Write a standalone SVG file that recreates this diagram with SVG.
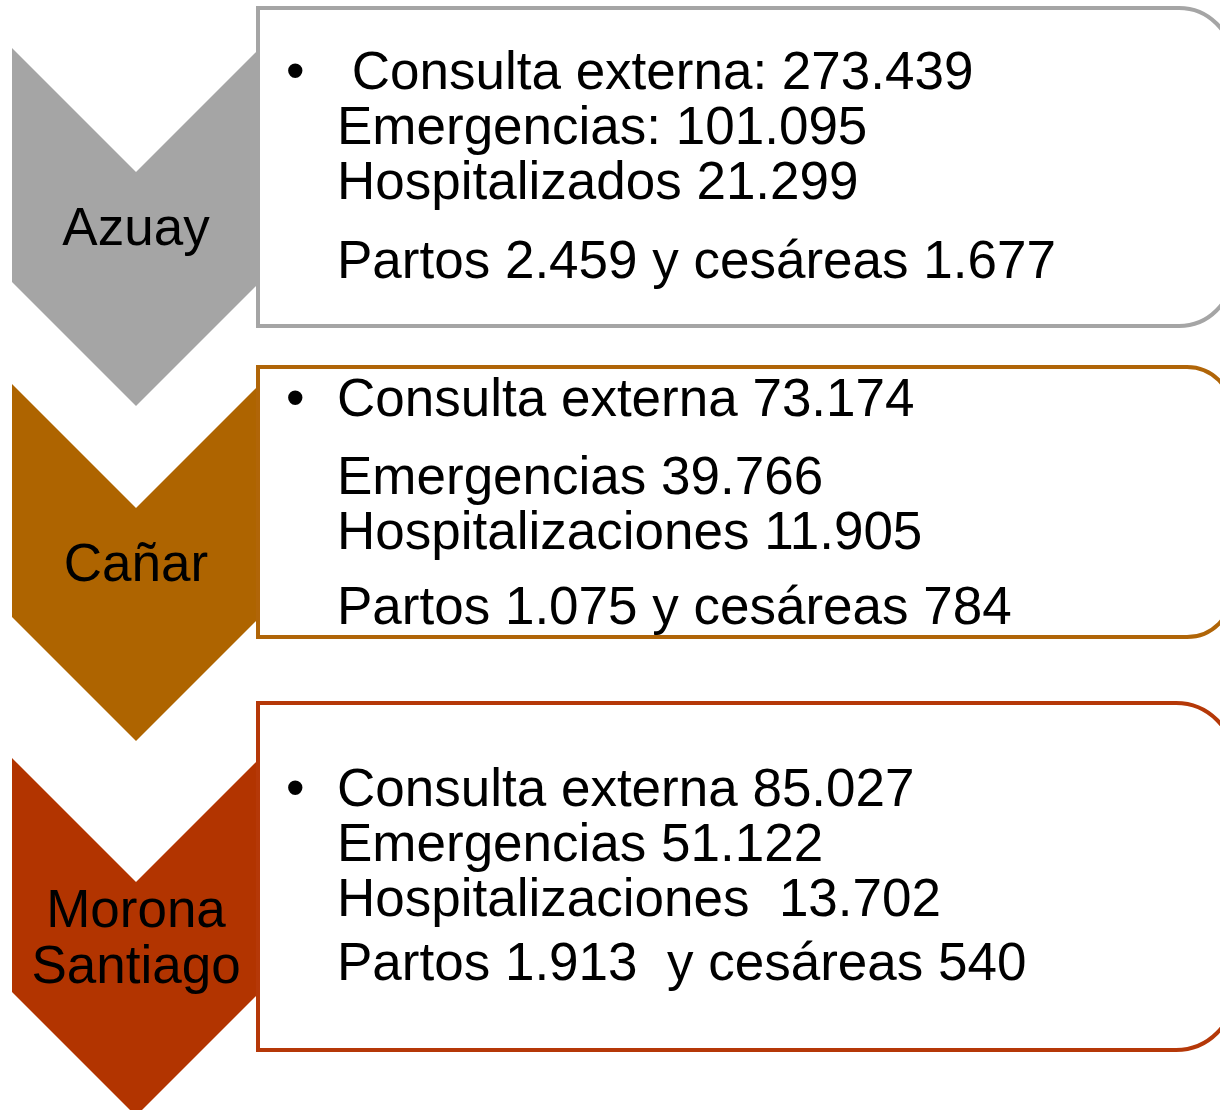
<svg xmlns="http://www.w3.org/2000/svg" width="1220" height="1110" viewBox="0 0 1220 1110" xml:space="preserve">
<style>
text{font-family:"Liberation Sans",Arial,sans-serif;font-size:53px;fill:#000;white-space:pre}
.lbl{text-anchor:middle}
.box{fill:#fff;stroke-width:4}
</style>
<rect width="1220" height="1110" fill="#fff"/>
<g id="connectors"/>
<g id="azuay">
<path d="M12,48 L136,172 L260,48 L260,282 L136,406 L12,282 Z" fill="#A5A5A5"/>
<text class="lbl" x="136" y="245">Azuay</text>
</g>
<g id="azuay-box">
<path class="box" stroke="#A5A5A5" d="M258,8 H1179 A53,53 0 0 1 1232,61 V273 A53,53 0 0 1 1179,326 H258 Z"/>
<text x="286" y="89">•</text>
<text x="337" y="89"> Consulta externa: 273.439</text>
<text x="337" y="144">Emergencias: 101.095</text>
<text x="337" y="199">Hospitalizados 21.299</text>
<text x="337" y="278">Partos 2.459 y cesáreas 1.677</text>
</g>
<g id="canar">
<path d="M12,384 L136,508 L260,384 L260,617 L136,741 L12,617 Z" fill="#AE6400"/>
<text class="lbl" x="136" y="581">Cañar</text>
</g>
<g id="canar-box">
<path class="box" stroke="#B06508" d="M258,367 H1187 A45,45 0 0 1 1232,412 V592 A45,45 0 0 1 1187,637 H258 Z"/>
<text x="286" y="416">•</text>
<text x="337" y="416">Consulta externa 73.174</text>
<text x="337" y="494">Emergencias 39.766</text>
<text x="337" y="549">Hospitalizaciones 11.905</text>
<text x="337" y="624">Partos 1.075 y cesáreas 784</text>
</g>
<g id="morona">
<path d="M12,758 L136,882 L260,758 L260,992 L136,1116 L12,992 Z" fill="#B23400"/>
<text class="lbl" x="136" y="927">Morona</text>
<text class="lbl" x="136" y="983">Santiago</text>
</g>
<g id="morona-box">
<path class="box" stroke="#B53808" d="M258,703 H1176 A58,58 0 0 1 1234,761 V992 A58,58 0 0 1 1176,1050 H258 Z"/>
<text x="286" y="806">•</text>
<text x="337" y="806">Consulta externa 85.027</text>
<text x="337" y="861">Emergencias 51.122</text>
<text x="337" y="916">Hospitalizaciones  13.702</text>
<text x="337" y="980">Partos 1.913  y cesáreas 540</text>
</g>
</svg>
